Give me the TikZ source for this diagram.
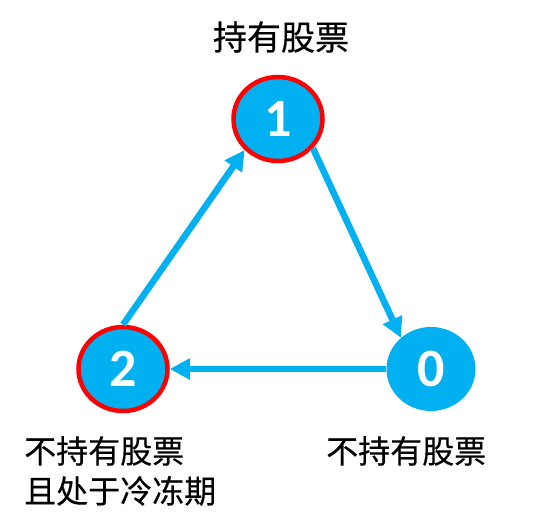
\documentclass[tikz,border=0pt]{standalone}
\usepackage{fontspec}
\setmainfont{Carlito}
\newfontfamily\cjk[FakeBold=0.4]{Noto Sans CJK SC}
\usetikzlibrary{arrows.meta,shapes.geometric}
\definecolor{stateblue}{HTML}{00B0F0}
\definecolor{statered}{HTML}{FF0000}
\tikzset{
  state/.style={ellipse, fill=stateblue, minimum width=89pt, minimum height=84pt,
    inner sep=0pt, text=white, font=\fontsize{54}{54}\selectfont\bfseries},
  frozen/.style={draw=statered, line width=4.5pt},
  trans/.style={draw=stateblue, line width=6.5pt,
    -{Triangle[length=20pt,width=20pt]}},
  caption/.style={font=\cjk\fontsize{32}{40}\selectfont, text=black, inner sep=0pt}
}
\begin{document}
\begin{tikzpicture}[x=1pt,y=-1pt]
  \useasboundingbox (0,0) rectangle (550,526);
  % states
  \node[state,frozen] (n1) at (278,119) {1};
  \node[state,frozen] (n2) at (123,369) {2};
  \node[state] (n0) at (431,369) {0};
  % transitions
  \draw[trans] (n2.north) -- (n1.223);
  \draw[trans] (n1.-40) -- (n0.134);
  \draw[trans] (n0.west) -- (n2.east);
  % captions
  \node[caption, font=\cjk\fontsize{34}{40}\selectfont] (c1) at (281,37) {持有股票};
  \node[caption, anchor=north west, align=left] (c2) at (24,436) {不持有股票\\且处于冷冻期};
  \node[caption, anchor=north west] (c0) at (326,436) {不持有股票};
\end{tikzpicture}
\end{document}
